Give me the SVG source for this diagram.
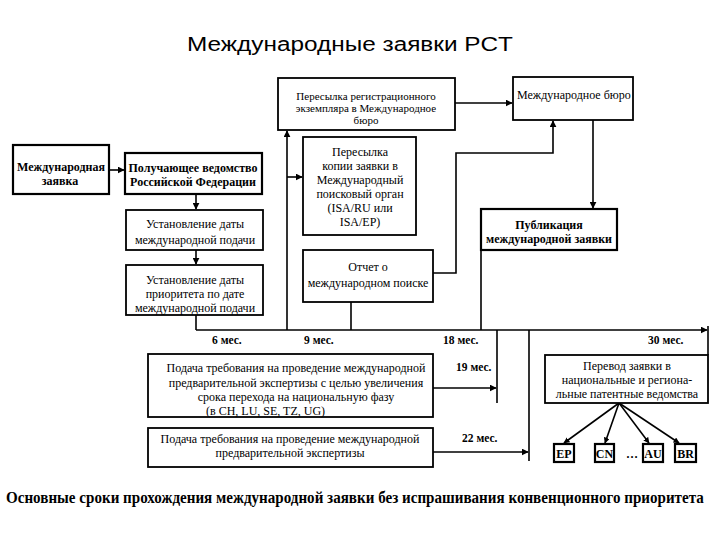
<svg xmlns="http://www.w3.org/2000/svg" width="720" height="540" viewBox="0 0 720 540">
<style>
.box{fill:#fff;stroke:#000;stroke-width:1.8}
.tb{fill:#fff;stroke:#000;stroke-width:2.2}
.t{font-family:"Liberation Serif","Times New Roman",serif;font-size:12px;fill:#000;text-anchor:middle}
.s{font-size:11px}
.b{font-weight:bold}
.m{font-family:"Liberation Serif","Times New Roman",serif;font-size:11.5px;font-weight:bold;fill:#000}
.ln{fill:none;stroke:#000;stroke-width:1.6}
.ar{fill:none;stroke:#000;stroke-width:1.6;marker-end:url(#ah)}
</style>
<defs>
<marker id="ah" viewBox="0 0 10 10" refX="9" refY="5" markerWidth="7" markerHeight="7" markerUnits="userSpaceOnUse" orient="auto">
<path d="M0,0 L10,5 L0,10 z" fill="#000"/>
</marker>
<marker id="ahs" viewBox="0 0 10 10" refX="9" refY="5" markerWidth="6" markerHeight="6" markerUnits="userSpaceOnUse" orient="auto">
<path d="M0,0 L10,5 L0,10 z" fill="#000"/>
</marker>
</defs>
<rect width="720" height="540" fill="#fff"/>
<text x="350" y="51" font-family="Liberation Sans, Arial, sans-serif" font-size="20" text-anchor="middle" textLength="326" lengthAdjust="spacingAndGlyphs">Международные заявки PCT</text>

<g id="connectors">
<path class="ar" d="M109,170 H124"/>
<path class="ar" d="M196,194 V209"/>
<path class="ar" d="M196,250 V264"/>
<path class="ln" d="M196,315 V330"/>
<path class="ar" d="M196,330 H707"/>
<path class="ar" d="M287,330 V131"/>
<path class="ar" d="M287,177 H302"/>
<path class="ln" d="M351,302 V330"/>
<path class="ar" d="M433,273 H456 V153 H553 V121"/>
<path class="ar" d="M455,103 H512"/>
<path class="ar" d="M593,120 V208"/>
<path class="ln" d="M481,250 V330"/>
<path class="ln" d="M497,330 V403"/>
<path class="ar" d="M433,388 H496"/>
<path class="ln" d="M529,330 V461"/>
<path class="ar" d="M433,452 H528"/>
<path class="ln" d="M708,326 V355"/>
<path class="ar" d="M619,403 L564,443" style="marker-end:url(#ahs)"/>
<path class="ar" d="M619,403 L605,443" style="marker-end:url(#ahs)"/>
<path class="ar" d="M619,403 L649,443" style="marker-end:url(#ahs)"/>
<path class="ar" d="M619,403 L679,443" style="marker-end:url(#ahs)"/>
</g>

<g id="labels">
<text class="m" x="212" y="344">6 мес.</text>
<text class="m" x="304" y="344">9 мес.</text>
<text class="m" x="443" y="344">18 мес.</text>
<text class="m" x="648" y="344">30 мес.</text>
<text class="m" x="456" y="371">19 мес.</text>
<text class="m" x="462" y="442">22 мес.</text>
</g>

<g id="n-intl-app">
<rect class="tb" x="13" y="145" width="96" height="49"/>
<text class="t b" x="61" y="171">Международная</text>
<text class="t b" x="60" y="185">заявка</text>
</g>
<g id="n-ro">
<rect class="tb" x="125" y="153" width="137" height="41"/>
<text class="t b" x="193" y="172">Получающее ведомство</text>
<text class="t b" x="193" y="186">Российской Федерации</text>
</g>
<g id="n-filing-date">
<rect class="box" x="126" y="210" width="137" height="40"/>
<text class="t" x="195" y="228">Установление даты</text>
<text class="t" x="195" y="244">международной подачи</text>
</g>
<g id="n-priority-date">
<rect class="box" x="126" y="265" width="137" height="50"/>
<text class="t" x="195" y="284">Установление даты</text>
<text class="t" x="195" y="298">приоритета по дате</text>
<text class="t" x="195" y="312">международной подачи</text>
</g>
<g id="n-record-copy">
<rect class="box" x="278" y="78" width="177" height="52"/>
<text class="t s" x="366" y="100">Пересылка регистрационного</text>
<text class="t s" x="366" y="112">экземпляра в Международное</text>
<text class="t s" x="366" y="124">бюро</text>
</g>
<g id="n-ib">
<rect class="box" x="513" y="77" width="120" height="43"/>
<text class="t" x="517" y="99" style="text-anchor:start">Международное бюро</text>
</g>
<g id="n-search-copy">
<rect class="box" x="303" y="137" width="113" height="98"/>
<text class="t" x="360" y="156">Пересылка</text>
<text class="t" x="360" y="170">копии заявки в</text>
<text class="t" x="360" y="184">Международный</text>
<text class="t" x="360" y="198">поисковый орган</text>
<text class="t" x="360" y="212">(ISA/RU или</text>
<text class="t" x="360" y="226">ISA/EP)</text>
</g>
<g id="n-search-report">
<rect class="box" x="303" y="250" width="130" height="52"/>
<text class="t" x="368" y="271">Отчет о</text>
<text class="t" x="368" y="287">международном поиске</text>
</g>
<g id="n-publication">
<rect class="tb" x="481" y="209" width="136" height="41"/>
<text class="t b" x="549" y="229">Публикация</text>
<text class="t b" x="549" y="243">международной заявки</text>
</g>
<g id="n-demand-19">
<rect class="box" x="148" y="354" width="285" height="63"/>
<text class="t" x="296" y="372">Подача требования на проведение международной</text>
<text class="t" x="296" y="387">предварительной экспертизы с целью увеличения</text>
<text class="t" x="296" y="401">срока перехода на национальную фазу</text>
<text class="t" x="206" y="415" style="text-anchor:start">(в CH, LU, SE, TZ, UG)</text>
</g>
<g id="n-demand-22">
<rect class="box" x="148" y="428" width="285" height="39"/>
<text class="t" x="290" y="443">Подача требования на проведение международной</text>
<text class="t" x="290" y="457">предварительной экспертизы</text>
</g>
<g id="n-national">
<rect class="box" x="545" y="355" width="163" height="48"/>
<text class="t" x="627" y="370">Перевод заявки в</text>
<text class="t" x="627" y="384">национальные и региона-</text>
<text class="t" x="627" y="398">льные патентные ведомства</text>
</g>
<g id="n-ep">
<rect class="tb" x="554" y="444" width="20" height="18"/>
<text class="t b" x="564" y="458">EP</text>
</g>
<g id="n-cn">
<rect class="tb" x="595" y="444" width="19" height="18"/>
<text class="t b" x="604.5" y="458">CN</text>
</g>
<text class="t b" x="632" y="458">…</text>
<g id="n-au">
<rect class="tb" x="643" y="444" width="20" height="18"/>
<text class="t b" x="653" y="458">AU</text>
</g>
<g id="n-br">
<rect class="tb" x="675" y="444" width="21" height="18"/>
<text class="t b" x="685.5" y="458">BR</text>
</g>

<text transform="translate(6,503) scale(0.88,1)" x="0" y="0" font-family="Liberation Serif, Times New Roman, serif" font-size="16.5" font-weight="bold" textLength="793" lengthAdjust="spacingAndGlyphs">Основные сроки прохождения международной заявки без испрашивания конвенционного приоритета</text>
</svg>
